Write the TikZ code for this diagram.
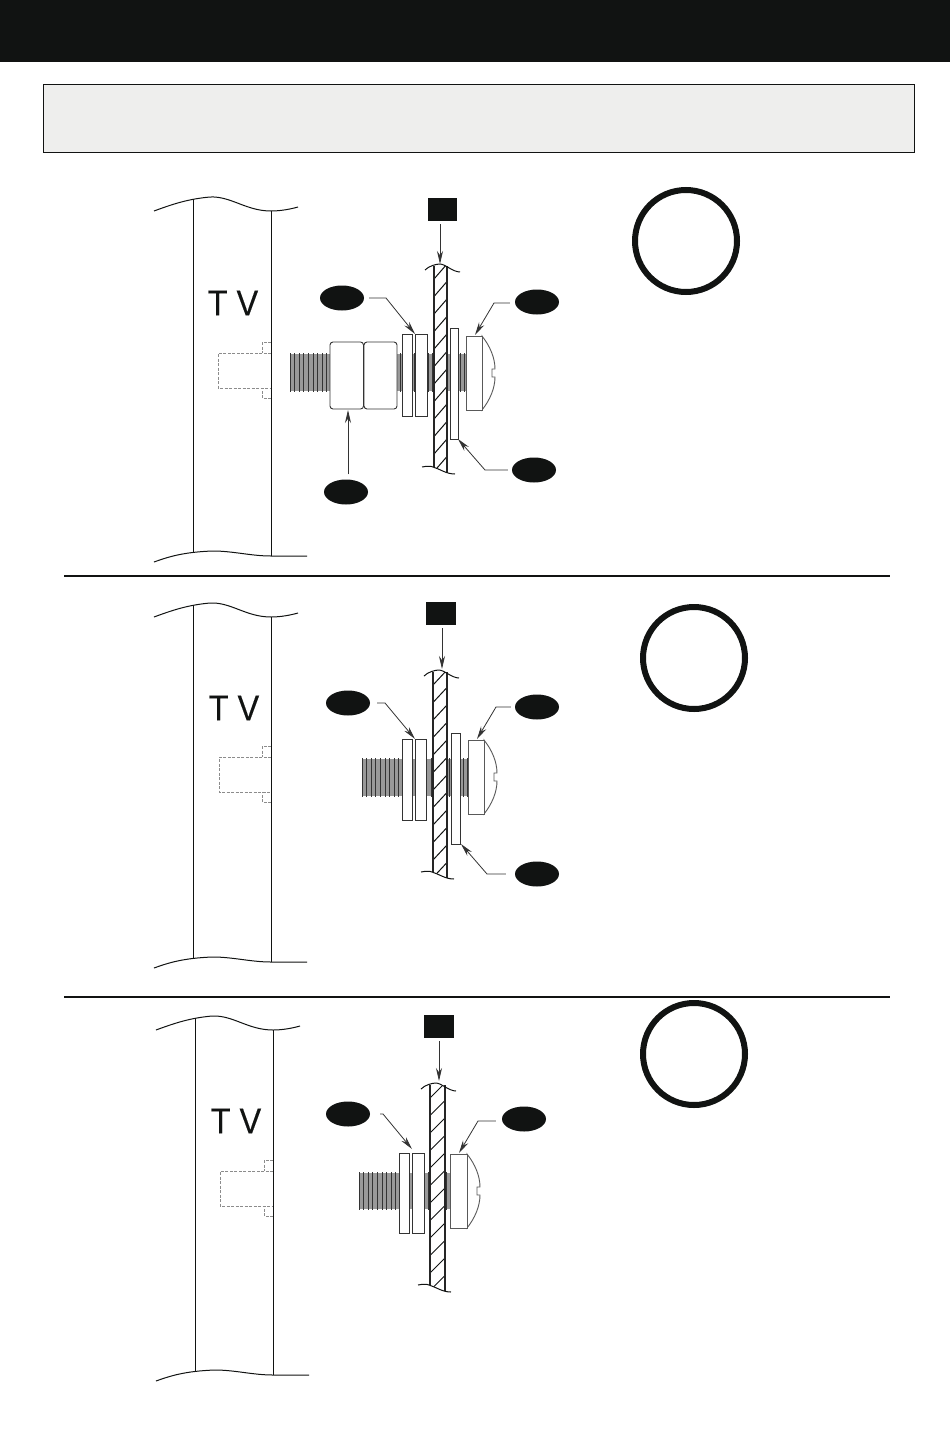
\documentclass[tikz,border=0pt]{standalone}
\usepackage{fontspec}
\setmainfont{Liberation Sans}
\newfontfamily\tvfont[FakeBold=0.3]{Liberation Sans}
\usetikzlibrary{shapes.geometric,arrows.meta}
\definecolor{ink}{HTML}{111312}
\definecolor{panelgrey}{HTML}{EEEEED}
\tikzset{
  part/.style={draw=black!80,line width=.9pt,fill=white},
  outline/.style={draw=ink,line width=1pt},
  dashline/.style={draw=black!45,line width=.5pt,dash pattern=on 3pt off 1.5pt},
  tag/.style={ellipse,fill=ink,minimum width=44pt,minimum height=25pt,inner sep=0pt},
  sqtag/.style={rectangle,fill=ink,minimum width=29.5pt,minimum height=23pt,inner sep=0pt},
  ringmark/.style={circle,draw=ink,line width=6pt,minimum size=102pt,inner sep=0pt},
  leader/.style={draw=black!80,line width=.8pt,shorten <=2pt,-{Stealth[length=13pt,width=6pt]}},
  rulerline/.style={draw=ink,line width=1.4pt},
  tvlabel/.style={font=\tvfont\fontsize{36}{36}\selectfont,text=ink,inner sep=0pt}
}
% TV panel: x-left, x-right, y-top-of-lines, y-bottom-of-lines
\newcommand{\tvpanel}[4]{%
  \draw[outline] (#1,#3+2) -- (#1,#4-3);
  \draw[outline] (#2,#3+14) -- (#2,#4);
  \draw[outline] (#1-39,#3+14) .. controls (#1-20,#3+7) and (#1-5,#3+2) .. (#1+17,#3)
     .. controls (#1+38,#3-1) and (#2-25,#3+14) .. (#2,#3+14)
     .. controls (#2+10,#3+14) and (#2+20,#3+12) .. (#2+27,#3+10);
  \draw[outline] (#1-39,#4+6) .. controls (#1-25,#4+1) and (#1-10,#4-4) .. (#1+20,#4-5)
     .. controls (#1+40,#4-5) and (#2-20,#4) .. (#2,#4)
     .. controls (#2+10,#4) and (#2+25,#4) .. (#2+36,#4);
}
% dashed insert: x-left, x-right, y-top, y-bottom
\newcommand{\insertpart}[4]{%
  \draw[dashline] (#2,#3) -- (#1,#3) -- (#1,#4) -- (#2,#4);
  \draw[dashline] (#2,#3-11) -- (#2-9,#3-11) -- (#2-9,#3);
  \draw[dashline] (#2,#4+10) -- (#2-9,#4+10) -- (#2-9,#4);
}
% threaded rod: x1, x2, y-top, y-bottom
\newcommand{\rod}[4]{%
  \fill[black!40] (#1,#3) rectangle (#2,#4);
  \foreach \k in {0,4.6,...,200}{
    \pgfmathsetmacro{\xx}{#1+\k}
    \pgfmathparse{\xx<#2+.1?1:0}
    \ifnum\pgfmathresult=1
      \draw[draw=black!80,line width=1pt] (\xx,#3-1) -- (\xx,#4+1);
    \fi}
}
% wall: x1, width, y-top, height
\newcommand{\wallpart}[4]{%
  \begin{scope}[shift={(#1,#3)}]
    \fill[white] (0,2) -- (#2,2) -- (#2,#4+6) -- (0,#4) -- cycle;
    \begin{scope}
      \clip (0,2) -- (#2,2) -- (#2,#4+6) -- (0,#4) -- cycle;
      \foreach \k in {0,...,12}
        \draw[outline] (0,15+17.5*\k) -- (#2,17.5*\k);
    \end{scope}
    \draw[draw=black!85,line width=1.2pt] (0,2) -- (0,#4);
    \draw[draw=black!85,line width=1.2pt] (#2,2) -- (#2,#4+6);
    \draw[outline] (-9,6) .. controls (-5,2) and (2,0) .. (6,0)
       .. controls (11,0) and (19,8) .. (26,8);
    \draw[outline] (-12,#4) .. controls (-7,#4-1) and (-3,#4-1) .. (-1,#4)
       .. controls (6,#4+2) and (12,#4+7) .. (21,#4+7);
  \end{scope}
}
% screw head: x1, x2, y-top, y-bottom, x-dome
\newcommand{\screwhead}[5]{%
  \pgfmathsetmacro{\ym}{(#3+#4)/2}
  \draw[part,draw=black!65] (#2,#3) .. controls (#5-5,#3+10) and (#5,\ym-15) .. (#5,\ym-4)
     -- (#5-3,\ym-4) -- (#5-3,\ym+4) -- (#5,\ym+4)
     .. controls (#5,\ym+15) and (#5-5,#4-10) .. (#2,#4) -- cycle;
  \draw[part,draw=black!65] (#1,#3) rectangle (#2,#4);
}
\begin{document}
\begin{tikzpicture}[x=1pt,y=-1pt]
\useasboundingbox (0,0) rectangle (950,1432);
\fill[white] (0,0) rectangle (950,1432);
\node[rectangle,fill=ink,minimum width=950pt,minimum height=62pt,inner sep=0pt,anchor=north west] (header) at (0,0) {};
\node[rectangle,draw=ink,line width=1.4pt,fill=panelgrey,minimum width=871pt,minimum height=68pt,inner sep=0pt,anchor=north west] (notebox) at (43,84) {};
\draw[rulerline] (64,576) -- (890,576);
\draw[rulerline] (64,997) -- (890,997);

% ===== PANEL 1 =====
\tvpanel{193}{271}{197}{556}
\node[tvlabel] (tv1) at (233,303) {\scalebox{.9}[1]{T V}};
\insertpart{218}{271}{353}{388}
\rod{290}{466}{354}{391}
\draw[part,rounded corners=3pt] (330,342) rectangle (363.5,409);
\draw[part,rounded corners=3pt] (364,342) rectangle (397,409);
\draw[part] (402,334) rectangle (412.5,416);
\draw[part] (415,334) rectangle (427,416);
\wallpart{434}{13}{264}{203}
\draw[part] (450,328) rectangle (458,439);
\screwhead{466}{482}{336}{410}{495}
\node[sqtag] (s1) at (442.5,209.5) {};
\node[tag] (a1) at (342,298) {};
\node[tag] (b1) at (537,302) {};
\node[tag] (c1) at (534,470) {};
\node[tag] (d1) at (346,492) {};
\node[ringmark] (r1) at (686,241) {};
\coordinate (t1s) at (440,264);
\coordinate (k1a) at (386,298);  \coordinate (t1a) at (415,334);
\coordinate (k1b) at (494,303);  \coordinate (t1b) at (475,335);
\coordinate (k1c) at (485,470);  \coordinate (t1c) at (458,439);
\coordinate (t1d) at (348,410);
\draw[leader,shorten <=3pt] (s1.south -| t1s) -- (t1s);
\draw[leader] (a1.east) ++(3,0) -- (k1a) -- (t1a);
\draw[leader] (b1.west) ++(-3,1) -- (k1b) -- (t1b);
\draw[leader] (c1.west) ++(-2,0) -- (k1c) -- (t1c);
\draw[leader] (d1.north -| t1d) ++(0,-3) -- (t1d);

% ===== PANEL 2 =====
\tvpanel{193}{271}{603}{962}
\node[tvlabel] (tv2) at (234,708) {\scalebox{.9}[1]{T V}};
\insertpart{219}{271}{757}{792}
\rod{362}{468}{759}{796}
\draw[part] (402,739) rectangle (412.5,820);
\draw[part] (415,739) rectangle (426,820);
\wallpart{433}{14}{670}{202}
\draw[part] (451,733) rectangle (460,844);
\screwhead{468}{484}{740}{814}{497}
\node[sqtag] (s2) at (441,613.5) {};
\node[tag] (a2) at (348,703) {};
\node[tag] (b2) at (537,707) {};
\node[tag] (c2) at (537,874) {};
\node[ringmark] (r2) at (694,658) {};
\coordinate (t2s) at (442,669);
\coordinate (k2a) at (385,703);  \coordinate (t2a) at (415,739);
\coordinate (k2b) at (496,707);  \coordinate (t2b) at (477,739);
\coordinate (k2c) at (487,874);  \coordinate (t2c) at (461,844);
\draw[leader,shorten <=3pt] (s2.south -| t2s) -- (t2s);
\draw[leader] (a2.east) ++(5,0) -- (k2a) -- (t2a);
\draw[leader] (b2.west) ++(-2,0) -- (k2b) -- (t2b);
\draw[leader] (c2.west) ++(-7,0) -- (k2c) -- (t2c);

% ===== PANEL 3 =====
\tvpanel{195}{273}{1016}{1375}
\node[tvlabel] (tv3) at (236,1121) {\scalebox{.9}[1]{T V}};
\insertpart{220}{273}{1171}{1206}
\rod{359}{450}{1173}{1209}
\draw[part] (399,1153) rectangle (409.5,1233);
\draw[part] (412,1153) rectangle (424,1233);
\wallpart{430}{15}{1083}{202}
\screwhead{450}{467}{1154}{1228}{480}
\node[sqtag] (s3) at (439,1026.5) {};
\node[tag] (a3) at (348,1114) {};
\node[tag] (b3) at (524,1119) {};
\node[ringmark] (r3) at (694,1054) {};
\coordinate (t3s) at (439,1081);
\coordinate (k3a) at (383,1114);  \coordinate (t3a) at (412,1149);
\coordinate (k3b) at (478,1121);  \coordinate (t3b) at (459,1153);
\draw[leader,shorten <=3pt] (s3.south -| t3s) -- (t3s);
\draw[leader] (a3.east) ++(8,0) -- (k3a) -- (t3a);
\draw[leader] (b3.west) ++(-4,2) -- (k3b) -- (t3b);
\end{tikzpicture}
\end{document}
